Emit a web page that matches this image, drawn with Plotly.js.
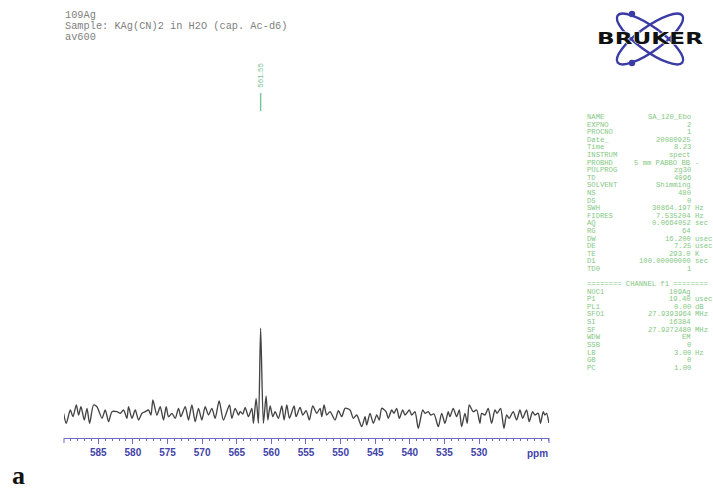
<!DOCTYPE html>
<html>
<head>
<meta charset="utf-8">
<script src="https://cdn.plot.ly/plotly-3.0.1.min.js"></script>
<style>html,body{margin:0;padding:0;background:#fff;}#chart{width:713px;height:489px;}</style>
</head>
<body>
<div id="chart"></div>
<script>
// ---- spectrum data (ppm, intensity in arbitrary units) ----
const ppm = [590.01,589.62,589.04,588.65,588.17,587.84,587.50,587.02,586.63,586.25,585.68,585.19,584.46,583.99,583.51,583.02,582.30,581.82,581.35,580.86,580.63,580.14,579.66,579.18,578.69,578.22,577.74,577.39,577.11,576.53,576.05,575.58,575.19,574.85,574.36,573.89,573.41,573.07,572.44,571.97,571.48,571.00,570.53,570.04,569.56,569.08,568.59,568.12,567.54,566.92,566.05,565.71,565.23,564.75,564.51,564.12,563.79,563.31,562.82,562.59,562.20,561.87,561.55,561.15,560.76,560.51,560.18,559.79,559.46,558.98,558.49,558.16,557.77,557.39,556.72,556.43,555.85,555.46,554.98,554.51,554.02,553.44,552.96,552.72,552.39,552.00,551.52,550.80,550.32,549.83,549.36,548.64,548.16,547.67,546.95,546.47,546.23,545.75,545.27,544.78,544.41,544.06,543.44,543.11,542.62,542.29,541.90,541.52,541.03,540.70,540.08,539.73,539.26,538.78,538.14,537.81,537.34,536.99,536.51,535.89,535.40,534.93,534.45,534.21,533.73,533.24,532.86,532.52,532.04,531.71,531.42,530.84,530.35,529.88,529.63,529.15,528.68,528.19,527.71,527.38,526.89,526.41,526.02,525.65,525.07,524.58,524.10,523.71,523.14,522.76,522.27,521.94,521.46,521.12,520.74,520.50,520.25,519.92];
const intensity = [-0.3,-10.3,3,-3.7,8,-2,6.3,-7,4.7,-10.3,8,6.3,-5.3,3,-8.7,1.3,1.3,-0.3,3,-5.3,6.3,-5.3,3,-7,-0.3,1.3,3,-2,13,-2,6.3,-7,6.3,-3.7,-0.3,-5.3,4.7,-3.7,6.3,-7,8,-8.7,4.7,-7,6.3,-2,4.7,-5.3,12,-7,8,-5.3,4.7,-2,1.3,-1,5.7,-3.7,4.7,-10.3,14.7,-10.3,84.7,-10.3,17,-7,7,-3.7,1.3,-5.3,7,-7,8,-5.3,7,-3.7,5.7,-2,2.3,-7,7,-0.3,4.7,-3.7,8,-2,1.3,-7,2.3,-3.7,4.7,3,-5.3,-2,-13.7,-3.7,-12,-0.3,-10.3,-2,-7,4.7,1.3,-5.3,3,-0.3,4.7,-5.3,3,-2,3,-2,1.3,-15.3,3,-0.3,1.3,-2,-1,-13.7,-0.3,-10.3,1.3,-3.7,4.7,-3.7,3,-13.7,-0.3,-10.3,8,1.3,3,-10.3,-0.3,-2,4.7,-10.3,3,-0.3,4.7,-15.3,-2,-5.3,1.3,-7,3,-5.3,3,-8.7,1.3,-2,-0.3,-10.3,1.3,-2,-0.3,-10];

const tickVals = [585,580,575,570,565,560,555,550,545,540,535,530];
const tickText = ['585','580','575','570','565','560','555','550','545','540','535','530'];
const peakLabel = '561.55';

const headerLines = ['109Ag','Sample: KAg(CN)2 in H2O (cap. Ac-d6)','av600'];

const paramNames  = ['NAME','EXPNO','PROCNO','Date_','Time','INSTRUM','PROBHD','PULPROG','TD','SOLVENT','NS','DS','SWH','FIDRES','AQ','RG','DW','DE','TE','D1','TD0'];
const paramValues = ['SA_120_Ebo','2','1','20080925','8.23','spect','5 mm PABBO BB','zg30','4096','Shimming','480','0','30864.197','7.535204','0.0664052','64','16.200','7.25','293.0','100.00000000','1'];
const paramUnits  = ['','','','','','','-','','','','','','Hz','Hz','sec','','usec','usec','K','sec',''];

const channelTitle = '======== CHANNEL f1 ========';
const chanNames  = ['NUC1','P1','PL1','SFO1','SI','SF','WDW','SSB','LB','GB','PC'];
const chanValues = ['109Ag','19.40','0.00','27.9393964','16384','27.9272480','EM','0','3.00','0','1.00'];
const chanUnits  = ['','usec','dB','MHz','','MHz','','','Hz','',''];

// ---- layout geometry (pixels) ----
const L = 64, R = 549, T = 60, B = 438;
const W = R - L, H = B - T;
const px = x => (x - L) / W;
const py = y => (B - y) / H;

const green = '#84c884';
const mono = 'Liberation Mono, DejaVu Sans Mono, monospace';

const annotations = [];
headerLines.forEach((t, i) => {
  annotations.push({xref:'paper', yref:'paper', x:px(63), y:py(15 + i*11), xanchor:'left', yanchor:'middle',
    text:t, showarrow:false, font:{family:mono, size:10.3, color:'#808080'}});
});
const addRow = (name, val, unit, yy) => {
  annotations.push({xref:'paper', yref:'paper', x:px(585), y:py(yy), xanchor:'left', yanchor:'middle',
    text:name, showarrow:false, font:{family:mono, size:7.2, color:green}});
  if (val) annotations.push({xref:'paper', yref:'paper', x:px(693), y:py(yy), xanchor:'right', yanchor:'middle',
    text:val, showarrow:false, font:{family:mono, size:7.2, color:green}});
  if (unit) annotations.push({xref:'paper', yref:'paper', x:px(693), y:py(yy), xanchor:'left', yanchor:'middle',
    text:unit, showarrow:false, font:{family:mono, size:7.2, color:green}});
};
paramNames.forEach((n, i) => addRow(n, paramValues[i], paramUnits[i], 117 + i*7.6));
annotations.push({xref:'paper', yref:'paper', x:px(585), y:py(284), xanchor:'left', yanchor:'middle',
  text:channelTitle, showarrow:false, font:{family:mono, size:7.2, color:green}});
chanNames.forEach((n, i) => addRow(n, chanValues[i], chanUnits[i], 291.5 + i*7.65));

// peak label
annotations.push({xref:'x', yref:'paper', x:561.55, y:py(75), xanchor:'center', yanchor:'middle', textangle:-90,
  text:peakLabel, showarrow:false, font:{family:'Liberation Sans, Arial, sans-serif', size:8, color:'#7cc49a'}});
// ppm label
annotations.push({xref:'paper', yref:'paper', x:px(537), y:py(453), xanchor:'center', yanchor:'middle',
  text:'ppm', showarrow:false, font:{family:'Liberation Sans, Arial, sans-serif', size:10, color:'#4343a8', weight:'bold'}});
// panel letter
annotations.push({xref:'paper', yref:'paper', x:px(18), y:py(475), xanchor:'center', yanchor:'middle',
  text:'a', showarrow:false, font:{family:'Liberation Serif, DejaVu Serif, serif', size:26, color:'#111', weight:'bold'}});

// Bruker logo as inline svg
const logoSvg = `<svg xmlns="http://www.w3.org/2000/svg" width="120" height="70" viewBox="0 0 120 70">
<g fill="none" stroke="#3b3ba6" stroke-width="2.4">
<ellipse cx="58" cy="36" rx="40" ry="12" transform="rotate(36 58 36)"/>
<ellipse cx="58" cy="36" rx="40" ry="12" transform="rotate(-36 58 36)"/>
</g>
<circle cx="40" cy="11" r="3.2" fill="#3b3ba6"/>
<circle cx="40" cy="60" r="3.2" fill="#3b3ba6"/>
<text x="5" y="41" textLength="106" lengthAdjust="spacingAndGlyphs" font-family="DejaVu Sans, Liberation Sans, sans-serif" font-weight="bold" font-size="15" fill="#111" stroke="#fff" stroke-width="0.8" paint-order="stroke">BRUKER</text>
</svg>`;
const logoSrc = 'data:image/svg+xml;charset=utf-8,' + encodeURIComponent(logoSvg);

const layout = {
  width:713, height:489,
  margin:{l:L, r:713-R, t:T, b:489-B, pad:0},
  paper_bgcolor:'#fff', plot_bgcolor:'#fff',
  showlegend:false,
  xaxis:{
    range:[589.95, 519.9], autorange:false,
    showgrid:false, zeroline:false,
    showline:true, linecolor:'#6b6bc8', linewidth:1,
    ticks:'outside', ticklen:5, tickwidth:1, tickcolor:'#6b6bc8',
    tickmode:'array', tickvals:tickVals, ticktext:tickText,
    tickfont:{family:'Liberation Sans, Arial, sans-serif', size:10, color:'#4343a8', weight:'bold'},
    minor:{dtick:1, tick0:520, ticks:'outside', ticklen:2, tickcolor:'#6b6bc8', showgrid:false},
    fixedrange:true
  },
  yaxis:{range:[-25, 353], autorange:false, visible:false, fixedrange:true},
  annotations: annotations,
  shapes:[
    {type:'line', xref:'x', yref:'paper', x0:561.55, x1:561.55, y0:py(93), y1:py(111), line:{color:'#7cc49a', width:1.5}},
    {type:'line', xref:'paper', yref:'paper', x0:0, x1:0, y0:0, y1:py(443), line:{color:'#6b6bc8', width:1}},
    {type:'line', xref:'paper', yref:'paper', x0:1, x1:1, y0:0, y1:py(443), line:{color:'#6b6bc8', width:1}}
  ],
  images:[{source:logoSrc, xref:'paper', yref:'paper', x:px(592), y:py(3), sizex:120/W, sizey:70/H,
    xanchor:'left', yanchor:'top', sizing:'stretch', layer:'above'}]
};

const trace = {
  x: ppm, y: intensity, type:'scatter', mode:'lines',
  line:{color:'#444444', width:1.35, shape:'spline', smoothing:0.7},
  hoverinfo:'skip', cliponaxis:false
};

Plotly.newPlot('chart', [trace], layout, {staticPlot:true, displayModeBar:false});
</script>
</body>
</html>
